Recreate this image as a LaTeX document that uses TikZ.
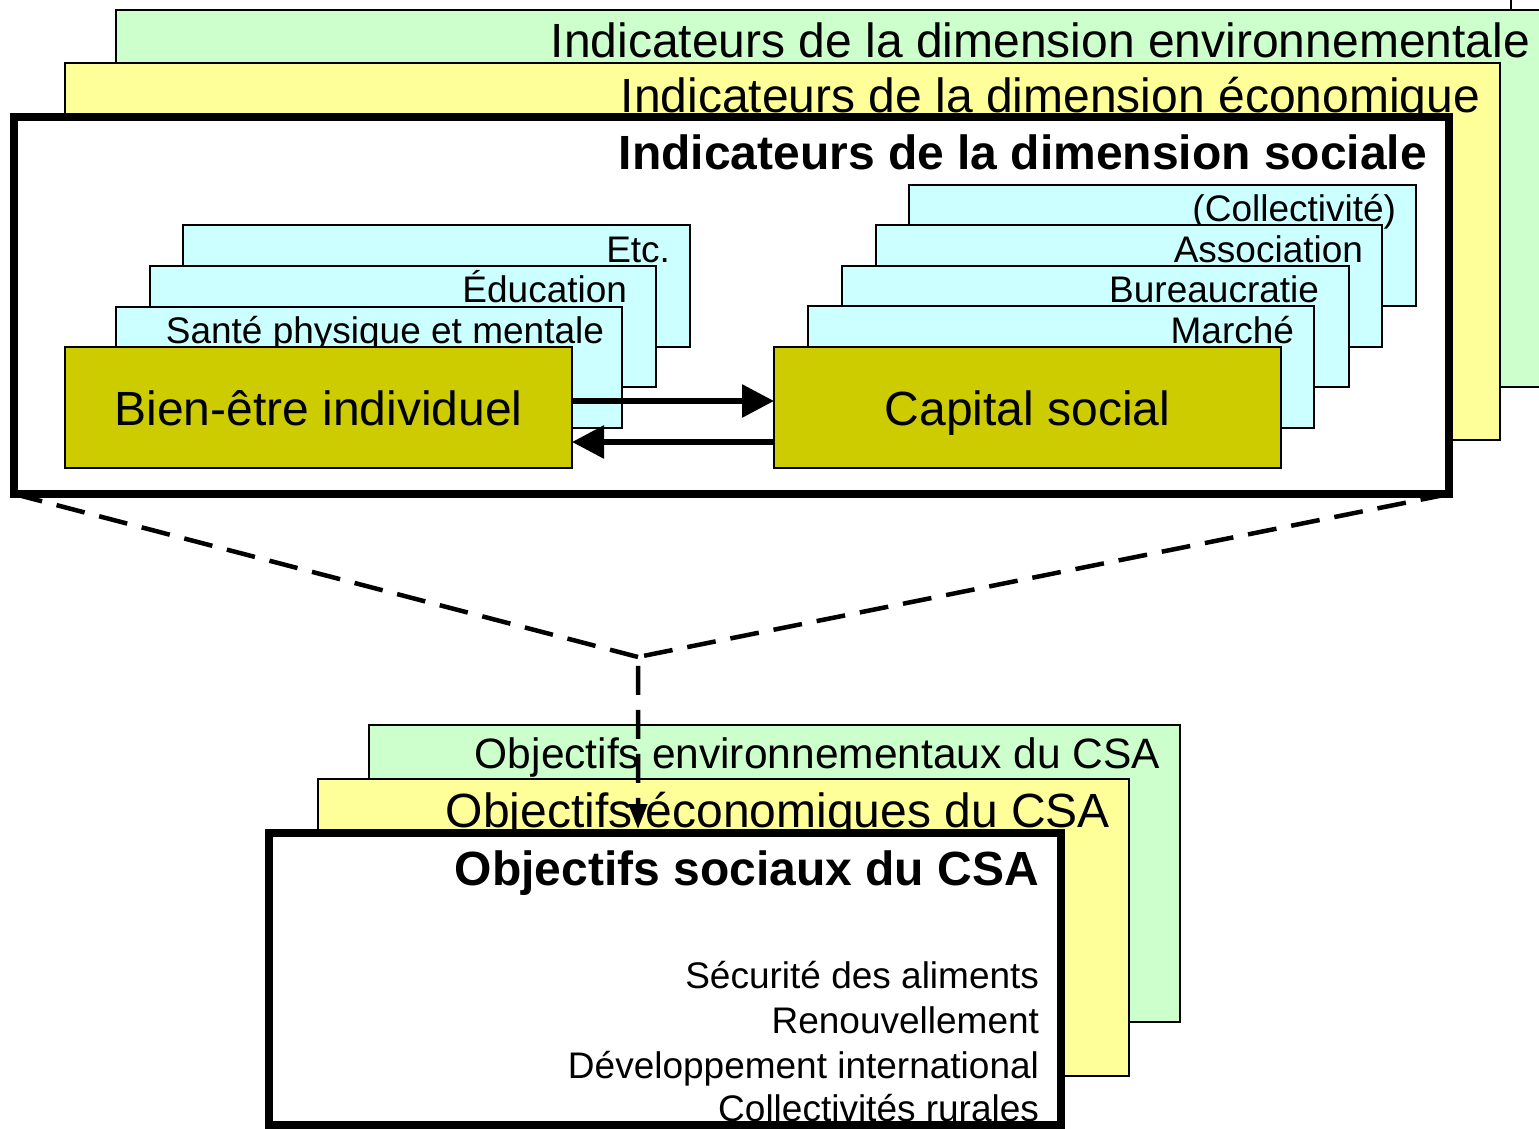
\documentclass[tikz,border=0pt]{standalone}
\usepackage{fontspec}
\setmainfont{Liberation Sans}
\usetikzlibrary{arrows.meta}
\definecolor{envgreen}{HTML}{CCFFCC}
\definecolor{ecoyellow}{HTML}{FFFF99}
\definecolor{subcyan}{HTML}{CCFFFF}
\definecolor{mainolive}{HTML}{CCCC00}
\newcommand\myfs[1]{\fontsize{#1}{#1}\selectfont}
\tikzset{
  layer/.style={draw=black, line width=1.5pt, rectangle, anchor=north west, inner sep=0pt, outer sep=0pt},
  bigframe/.style={draw=black, line width=8pt, fill=white, rectangle, anchor=north west, inner sep=0pt, outer sep=0pt},
  lbl/.style={anchor=base east, inner sep=0pt, outer sep=0pt, xshift=2pt},
  titlefont/.style={font=\myfs{48}},
  smallfont/.style={font=\myfs{37}},
  linkarrow/.style={line width=6pt, -{Triangle[length=32pt,width=32pt]}},
  dashline/.style={line width=4.5pt, dash pattern=on 29pt off 15pt},
}
\begin{document}
\begin{tikzpicture}[x=1pt,y=-1pt]
\useasboundingbox (0,0) rectangle (1539,1129);
\clip (0,0) rectangle (1539,1129);
% partial frame at the top right
\draw[line width=1.5pt] (1511,-5) -- (1511,10);
% top stack
\node[layer, fill=envgreen, minimum width=1450pt, minimum height=377pt] (envbox) at (116,10) {};
\node[lbl, titlefont] (envtxt) at (1528,58) {Indicateurs de la dimension environnementale};
\node[layer, fill=ecoyellow, minimum width=1435pt, minimum height=377pt] (ecobox) at (65,63) {};
\node[lbl, titlefont] (ecotxt) at (1478,113) {Indicateurs de la dimension économique};
\node[bigframe, minimum width=1435pt, minimum height=377pt] (soc) at (14,117) {};
\node[lbl, titlefont, font=\myfs{48}\bfseries] (soctxt) at (1425,169) {Indicateurs de la dimension sociale};
% left stack
\node[layer, fill=subcyan, minimum width=507pt, minimum height=122pt] (etc) at (183,225) {};
\node[lbl, smallfont] (etctxt) at (668,262) {Etc.};
\node[layer, fill=subcyan, minimum width=506pt, minimum height=121pt] (edu) at (150,266) {};
\node[lbl, smallfont] (edutxt) at (625,302) {Éducation};
\node[layer, fill=subcyan, minimum width=506pt, minimum height=121pt] (sante) at (116,307) {};
\node[lbl, smallfont] (santetxt) at (602,343) {Santé physique et mentale};
\node[layer, fill=mainolive, minimum width=507pt, minimum height=121pt] (bien) at (65,347) {};
\node[titlefont, anchor=base, inner sep=0pt] (bientxt) at (318.5,425) {Bien-être individuel};
% right stack
\node[layer, fill=subcyan, minimum width=507pt, minimum height=121pt] (coll) at (909,185) {};
\node[lbl, smallfont] (colltxt) at (1394,221) {(Collectivité)};
\node[layer, fill=subcyan, minimum width=506pt, minimum height=122pt] (asso) at (876,225) {};
\node[lbl, smallfont] (assotxt) at (1361,262) {Association};
\node[layer, fill=subcyan, minimum width=507pt, minimum height=121pt] (bur) at (842,266) {};
\node[lbl, smallfont] (burtxt) at (1317,302) {Bureaucratie};
\node[layer, fill=subcyan, minimum width=506pt, minimum height=122pt] (marche) at (808,306) {};
\node[lbl, smallfont] (marchetxt) at (1292,343) {Marché};
\node[layer, fill=mainolive, minimum width=507pt, minimum height=121pt] (cap) at (774,347) {};
\node[titlefont, anchor=base, inner sep=0pt] (captxt) at (1027.5,425) {Capital social};
% links between the two main boxes
\draw[linkarrow] (bien.east |- 0,401) -- (cap.west |- 0,401);
\draw[linkarrow] (cap.west |- 0,442) -- (bien.east |- 0,442);
% bottom stack
\node[layer, fill=envgreen, minimum width=811pt, minimum height=297pt] (oenv) at (369,725) {};
\node[lbl, font=\myfs{42.5}] (oenvtxt) at (1158,768) {Objectifs environnementaux du CSA};
\node[layer, fill=ecoyellow, minimum width=811pt, minimum height=297pt] (oeco) at (318,779) {};
\node[lbl, titlefont] (oecotxt) at (1108,827) {Objectifs économiques du CSA};
\node[bigframe, minimum width=792pt, minimum height=292pt] (osoc) at (269,833) {};
\node[lbl, font=\myfs{48}\bfseries] (osoctxt) at (1037,885) {Objectifs sociaux du CSA};
\node[lbl, smallfont] (l1) at (1037,988) {Sécurité des aliments};
\node[lbl, smallfont] (l2) at (1037,1033) {Renouvellement};
\node[lbl, smallfont] (l3) at (1037,1078) {Développement international};
\node[lbl, smallfont] (l4) at (1037,1121) {Collectivités rurales};
% dashed funnel
\coordinate (apex) at (638,657);
\draw[dashline] (soc.south west) -- (apex);
\draw[dashline, -{Triangle[length=25pt,width=18pt]}, shorten >=4pt] (soc.south east) -- (apex) -- (apex |- osoc.north);
\end{tikzpicture}
\end{document}
